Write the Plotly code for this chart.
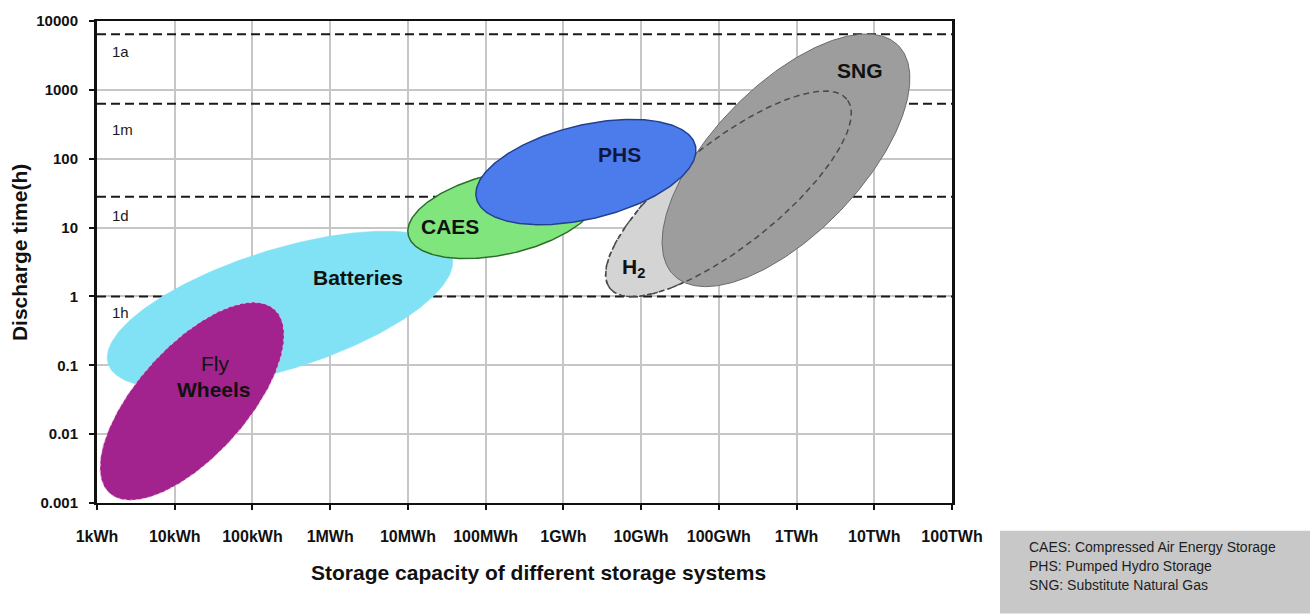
import numpy as np
import plotly.graph_objects as go

# ---- canvas / plot-area geometry (pixels) ----
W, H = 1310, 615
M_L, M_R, M_T, M_B = 97, 358, 15, 112
X_DEC = (0, 11)    # log10 of kWh: 1 kWh .. 100 TWh
Y_DEC = (-3, 4)    # log10 of hours: 0.001 h .. 10000 h

FONT = "Liberation Sans, Arial, sans-serif"

# ---- axis ticks ----
capacity_ticks_kwh = [1, 1e1, 1e2, 1e3, 1e4, 1e5, 1e6, 1e7, 1e8, 1e9, 1e10, 1e11]
capacity_tick_labels = ["1kWh", "10kWh", "100kWh", "1MWh", "10MWh", "100MWh",
                        "1GWh", "10GWh", "100GWh", "1TWh", "10TWh", "100TWh"]
time_ticks_h = [0.001, 0.01, 0.1, 1, 10, 100, 1000, 10000]
time_tick_labels = ["0.001", "0.01", "0.1", "1", "10", "100", "1000", "10000"]

# ---- reference discharge durations (dashed lines) ----
ref_names = ["1a", "1m", "1d", "1h"]
ref_time_h = [6440, 630, 28, 1]
ref_label_time_h = [3590, 264, 14.9, 0.586]

# ---- storage technologies: operating region as a tilted ellipse in log-log space ----
tech_names = ["Batteries", "Fly Wheels", "CAES", "H2", "SNG", "PHS"]
center_capacity_kwh = [226, 16.7, 1.67e5, 1.33e8, 7.31e8, 1.95e6]
center_time_h = [0.64, 0.030, 16, 30.9, 94.8, 64]
semi_major_dec = [2.32, 1.60, 1.25, 1.96, 2.08, 1.45]
semi_minor_dec = [0.78, 0.71, 0.53, 0.67, 0.96, 0.61]
tilt_deg = [17.7, 48.6, 13.0, 39.0, 46.4, 13.8]

# label text and where it sits (capacity kWh, time h)
label_text = ["Batteries", "Fly", "<b>Wheels</b>", "CAES", "PHS", "H<sub>2</sub>", "SNG"]
label_capacity_kwh = [2280, 33, 32, 34750, 5.35e6, 8.1e6, 6.55e9]
label_time_h = [1.86, 0.105, 0.0446, 10.4, 116, 2.6, 1920]

glossary_lines = ["CAES: Compressed Air Energy Storage",
                  "PHS: Pumped Hydro Storage",
                  "SNG: Substitute Natural Gas"]

styles = {
    "Batteries": dict(fill="#80e2f4", line="#80e2f4", width=0.5, dash="solid"),
    "Fly Wheels": dict(fill="#a3238e", line="#e7b9dc", width=1, dash="dot"),
    "CAES": dict(fill="#7fe57c", line="#2b6e2b", width=1.5, dash="solid"),
    "H2": dict(fill="#d4d4d4", line="#4a4a4a", width=1.5, dash="4px,3px"),
    "SNG": dict(fill="#9d9d9d", line="#6a6a6a", width=1, dash="solid"),
    "PHS": dict(fill="#4c7cec", line="#22408f", width=1.5, dash="solid"),
}

plot_w = W - M_L - M_R
plot_h = H - M_T - M_B
px_per_dec_x = plot_w / (X_DEC[1] - X_DEC[0])
px_per_dec_y = plot_h / (Y_DEC[1] - Y_DEC[0])
aspect = px_per_dec_y / px_per_dec_x


def ellipse_outline(cx, cy, a, b, tilt):
    t = np.linspace(0, 2 * np.pi, 361)
    th = np.radians(tilt)
    du = a * np.cos(t) * np.cos(th) - b * np.sin(t) * np.sin(th)
    dv = a * np.cos(t) * np.sin(th) + b * np.sin(t) * np.cos(th)
    return 10 ** (np.log10(cx) + du), 10 ** (np.log10(cy) + dv / aspect)


def px_to_paper(px, py):
    return (px - M_L) / plot_w, (H - M_B - py) / plot_h


fig = go.Figure()

# dashed reference durations (underneath the regions)
for t_h in ref_time_h:
    fig.add_trace(go.Scatter(
        x=[capacity_ticks_kwh[0], capacity_ticks_kwh[-1]], y=[t_h, t_h],
        mode="lines", line=dict(color="#1a1a1a", width=2, dash="9px,5px"),
        hoverinfo="skip", showlegend=False))

outlines = {}
for i, name in enumerate(tech_names):
    outlines[name] = ellipse_outline(center_capacity_kwh[i], center_time_h[i],
                                     semi_major_dec[i], semi_minor_dec[i], tilt_deg[i])


def add_region(name):
    xs, ys = outlines[name]
    st = styles[name]
    fig.add_trace(go.Scatter(
        x=xs, y=ys, mode="lines", fill="toself", fillcolor=st["fill"],
        line=dict(color=st["line"], width=st["width"], dash=st["dash"]),
        name=name, hoverinfo="name", showlegend=False))


for name in ["Batteries", "Fly Wheels", "CAES", "H2", "SNG"]:
    add_region(name)

# hydrogen boundary continues (dashed) across the SNG region
hx, hy = outlines["H2"]
fig.add_trace(go.Scatter(
    x=hx, y=hy, mode="lines",
    line=dict(color="#4a4a4a", width=1.5, dash="6px,4px"),
    hoverinfo="skip", showlegend=False))

add_region("PHS")

annotations = []

# region labels
for txt, cx, ty in zip(label_text, label_capacity_kwh, label_time_h):
    bold = txt not in ("Fly",) and not txt.startswith("<b>")
    color = "#10173f" if txt == "PHS" else "#111111"
    annotations.append(dict(
        x=np.log10(cx), y=np.log10(ty), xref="x", yref="y",
        text=(f"<b>{txt}</b>" if bold else txt), showarrow=False,
        xanchor="center", yanchor="middle",
        font=dict(family=FONT, size=21, color=color)))

# reference duration labels
for nm, ty in zip(ref_names, ref_label_time_h):
    annotations.append(dict(
        x=np.log10(1.47), y=np.log10(ty), xref="x", yref="y",
        text=nm, showarrow=False, xanchor="left", yanchor="middle",
        font=dict(family=FONT, size=15, color="#1a1a1a")))

# axis titles
tx, ty = px_to_paper(538, 573)
annotations.append(dict(
    x=tx, y=ty, xref="paper", yref="paper", showarrow=False,
    text="<b>Storage capacity of different storage systems</b>",
    xanchor="center", yanchor="middle",
    font=dict(family=FONT, size=21, color="#111111")))
tx, ty = px_to_paper(19, 250)
annotations.append(dict(
    x=tx, y=ty, xref="paper", yref="paper", showarrow=False,
    text="<b>Discharge time(h)</b>", textangle=-90,
    xanchor="center", yanchor="middle",
    font=dict(family=FONT, size=21, color="#111111")))

# glossary box
bx0, by0 = px_to_paper(1000, 531)
bx1, by1 = px_to_paper(1310, 615)
shapes = [dict(type="rect", xref="paper", yref="paper",
               x0=bx0, y0=by0, x1=bx1, y1=by1,
               fillcolor="#c8c8c8", line=dict(width=0), layer="above")]
for k, line in enumerate(glossary_lines):
    gx, gy = px_to_paper(1027, 548 + 19 * k)
    annotations.append(dict(
        x=gx, y=gy, xref="paper", yref="paper", showarrow=False,
        text=line, xanchor="left", yanchor="middle",
        font=dict(family=FONT, size=14, color="#1e1e1e")))

fig.update_layout(
    width=W, height=H,
    margin=dict(l=M_L, r=M_R, t=M_T, b=M_B, pad=0),
    paper_bgcolor="white", plot_bgcolor="white",
    showlegend=False,
    annotations=annotations, shapes=shapes,
    xaxis=dict(
        type="log", range=list(X_DEC),
        tickvals=capacity_ticks_kwh, ticktext=capacity_tick_labels,
        showgrid=True, gridcolor="#c6c6c6", gridwidth=2,
        showline=True, linecolor="#111111", linewidth=2, mirror=True,
        ticks="outside", ticklen=5, tickcolor="#111111", tickwidth=2,
        ticklabelstandoff=13,
        tickfont=dict(family=FONT, size=16, color="#111111", weight="bold"),
        zeroline=False, fixedrange=True),
    yaxis=dict(
        type="log", range=list(Y_DEC),
        tickvals=time_ticks_h, ticktext=time_tick_labels,
        showgrid=True, gridcolor="#c6c6c6", gridwidth=2,
        showline=True, linecolor="#111111", linewidth=3, mirror=True,
        ticks="outside", ticklen=5, tickcolor="#111111", tickwidth=2,
        ticklabelstandoff=8,
        tickfont=dict(family=FONT, size=15, color="#111111", weight="bold"),
        zeroline=False, fixedrange=True),
)

fig.write_html("out.html")
